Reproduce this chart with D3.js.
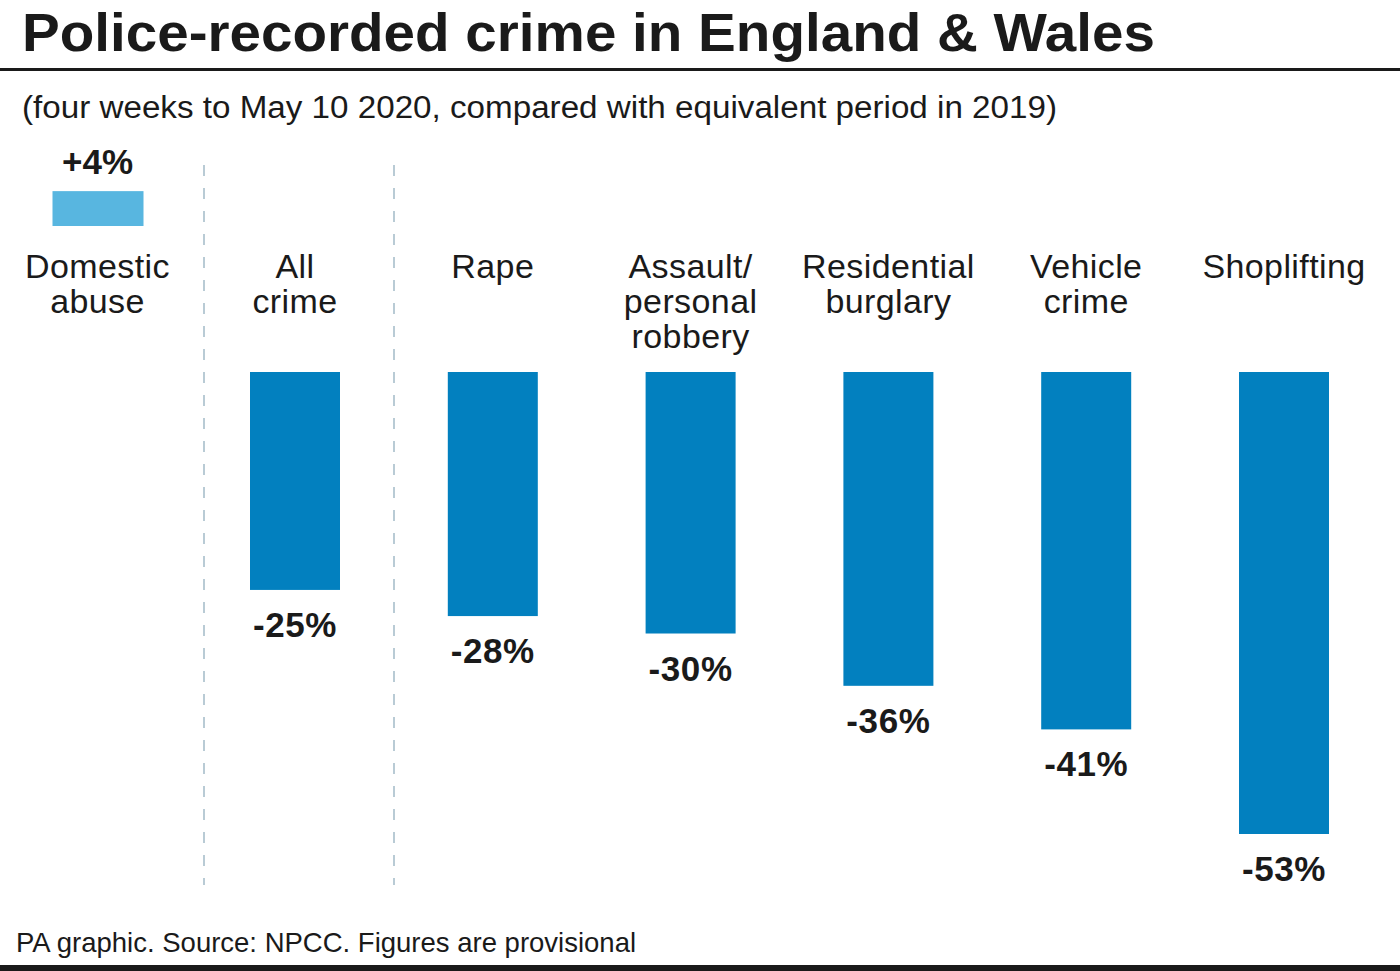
<!DOCTYPE html>
<html><head><meta charset="utf-8">
<script src="https://cdn.jsdelivr.net/npm/d3@7"></script>
<style>body{margin:0;background:#fff}svg{display:block}text{font-family:"Liberation Sans",Arial,Helvetica,sans-serif}</style>
</head><body>
<svg id="c" width="1400" height="971"></svg>
<script>
const categories = ["All crime","Rape","Assault/ personal robbery","Residential burglary","Vehicle crime","Shoplifting"];
const labelLines = [["All","crime"],["Rape"],["Assault/","personal","robbery"],["Residential","burglary"],["Vehicle","crime"],["Shoplifting"]];
const values = [-25,-28,-30,-36,-41,-53];
const valueLabels = ["-25%","-28%","-30%","-36%","-41%","-53%"];
const sideCategory = ["Domestic","abuse"];
const sideValue = [4];
const sideLabel = ["+4%"];

const svg = d3.select("#c");
const dark = "#0280bf", light = "#58b6e0", ink = "#1a1a1a";

// title
svg.append("text").attr("x",22).attr("y",51).attr("font-size",53).attr("font-weight","bold").attr("fill",ink)
  .attr("textLength",1133).attr("lengthAdjust","spacingAndGlyphs")
  .text("Police-recorded crime in England & Wales");
svg.append("rect").attr("x",0).attr("y",68).attr("width",1400).attr("height",3).attr("fill",ink);
svg.append("text").attr("x",22).attr("y",118).attr("font-size",31).attr("fill",ink)
  .attr("textLength",1035).attr("lengthAdjust","spacingAndGlyphs")
  .text("(four weeks to May 10 2020, compared with equivalent period in 2019)");

// scales
const y = d3.scaleLinear().domain([0,-53]).range([372,834]);
const pxPer = (834-372)/53;
const yS = d3.scaleLinear().domain([0,4]).range([226,226-4*pxPer]);
const x = d3.scalePoint().domain(categories).range([295,1284]);
const bw = 90;
const sideX = 97.5;
const labFs = 34, valFs = 35;

// dashed separators
[204,394].forEach(xx=>svg.append("line").attr("x1",xx).attr("x2",xx).attr("y1",165).attr("y2",885)
  .attr("stroke","#a3bac8").attr("stroke-width",1.5).attr("stroke-dasharray","11,12"));

// side bar
svg.append("rect").attr("x",sideX-bw/2).attr("y",yS(sideValue[0])).attr("width",bw+1).attr("height",yS(0)-yS(sideValue[0])).attr("fill",light);
svg.append("text").attr("x",sideX).attr("y",yS(sideValue[0])-17).attr("text-anchor","middle").attr("font-size",valFs).attr("font-weight","bold").attr("fill",ink).text(sideLabel[0]);
sideCategory.forEach((l,i)=>svg.append("text").attr("x",sideX).attr("y",278+i*35).attr("text-anchor","middle").attr("font-size",labFs).attr("letter-spacing",0.4).attr("fill",ink).text(l));

// bars
const g = svg.append("g");
g.selectAll("rect.bar").data(values).join("rect").attr("class","bar")
  .attr("x",(d,i)=>x(categories[i])-bw/2).attr("width",bw)
  .attr("y",y(0)).attr("height",d=>y(d)-y(0)).attr("fill",dark);
g.selectAll("text.val").data(values).join("text").attr("class","val")
  .attr("x",(d,i)=>x(categories[i])).attr("y",d=>y(d)+47).attr("text-anchor","middle")
  .attr("font-size",valFs).attr("font-weight","bold").attr("letter-spacing",0.6).attr("fill",ink).text((d,i)=>valueLabels[i]);
labelLines.forEach((lines,i)=>lines.forEach((l,j)=>
  g.append("text").attr("x",x(categories[i])).attr("y",278+j*35).attr("text-anchor","middle").attr("font-size",labFs).attr("letter-spacing",0.4).attr("fill",ink).text(l)));

// footer
svg.append("text").attr("x",16).attr("y",952).attr("font-size",27.5).attr("fill",ink).text("PA graphic. Source: NPCC. Figures are provisional");
svg.append("rect").attr("x",0).attr("y",965).attr("width",1400).attr("height",6).attr("fill",ink);
</script>
</body></html>
